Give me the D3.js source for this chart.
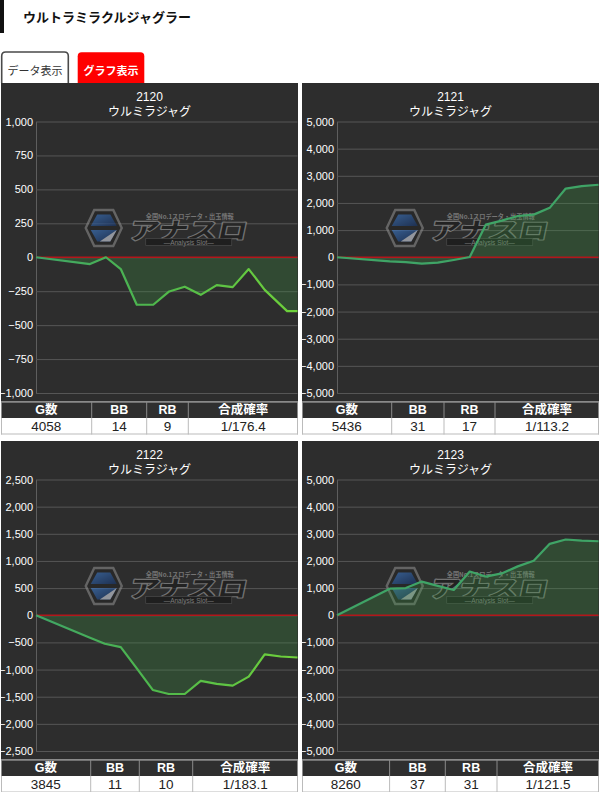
<!DOCTYPE html>
<html><head><meta charset="utf-8">
<script src="https://cdn.jsdelivr.net/npm/d3@7"></script>
<style>
html,body{margin:0;padding:0;background:#fff;}
svg{display:block;}
</style></head><body>
<svg id="c" width="600" height="792"></svg>
<script>
// ---------- data ----------
const pageTitle = "ウルトラミラクルジャグラー";
const tabLabels = ["データ表示", "グラフ表示"];
const machineNos = ["2120", "2121", "2122", "2123"];
const machineName = "ウルミラジャグ";
const tableHeaders = ["G数", "BB", "RB", "合成確率"];
const games = [4058, 5436, 3845, 8260];
const bbCounts = [14, 31, 11, 37];
const rbCounts = [9, 17, 10, 31];
const combinedProb = ["1/176.4", "1/113.2", "1/183.1", "1/121.5"];
const yMax = [1000, 5000, 2500, 5000];
const yStep = [250, 1000, 500, 1000];
const xSlots1 = [0, 3.375, 4.375, 5.3, 6.3, 7.33, 8.33, 9.3, 10.3, 11.3, 12.3, 13.3, 14.3, 15.7, 16.35];
const xSlots = [0, 3.3, 4.3, 5.3, 6.3, 7.3, 8.3, 9.3, 10.3, 11.3, 12.3, 13.3, 14.3, 15.3, 16.35];
const values2120 = [0, -50, 0, -87, -350, -350, -252, -217, -277, -205, -220, -87, -240, -397, -397];
const values2121 = [0, -150, -180, -235, -200, -100, 10, 1200, 1350, 1520, 1570, 1820, 2530, 2620, 2670];
const values2122 = [0, -405, -525, -586, -980, -1376, -1450, -1450, -1210, -1265, -1296, -1130, -722, -760, -778];
const values2123 = [0, 980, 1000, 1240, 1080, 930, 1610, 1425, 1540, 1800, 2010, 2630, 2790, 2750, 2725];
const xDomainMax = 16.35;

const seriesX = [xSlots1, xSlots, xSlots, xSlots];
const seriesY = [values2120, values2121, values2122, values2123];

// ---------- layout ----------
const panelPos = [[1, 83], [302, 83], [1, 441], [302, 441]];
const panelW = 297;
const plotL = 35, plotR = 296.5, plotT = 38.5, plotB = 310;
const tableTop = 318.5, headH = 16.5, rowH = 16.5;
const colEdges = [
  [0, 90.7, 145.7, 187.3, 297],
  [0, 89.7, 142, 193, 297],
  [0, 89.7, 138.3, 191.7, 297],
  [0, 87.6, 143.3, 195, 297]
];
const LAT = "'Liberation Sans', Arial, 'Noto Sans CJK JP', sans-serif";
const JP = "'Noto Sans CJK JP', 'Noto Sans CJK SC', sans-serif";

const svg = d3.select("#c");
const defs = svg.append("defs");

// header
svg.append("rect").attr("x", 0).attr("y", 0).attr("width", 4).attr("height", 33).attr("fill", "#111");
svg.append("text").attr("x", 23).attr("y", 16).attr("dominant-baseline", "central")
  .attr("font-family", JP).attr("font-size", 13).attr("font-weight", "bold").attr("fill", "#111")
  .text(pageTitle);

function topRounded(x, y, w, h, r) {
  return `M${x},${y + h}V${y + r}Q${x},${y} ${x + r},${y}H${x + w - r}Q${x + w},${y} ${x + w},${y + r}V${y + h}`;
}
// tabs
svg.append("path").attr("d", topRounded(1.7, 52, 66.6, 31, 4)).attr("fill", "#fff")
  .attr("stroke", "#4a4a4a").attr("stroke-width", 1.6);
svg.append("text").attr("x", 35).attr("y", 69.5).attr("text-anchor", "middle").attr("dominant-baseline", "central")
  .attr("font-family", JP).attr("font-size", 11).attr("fill", "#333").text(tabLabels[0]);
svg.append("path").attr("d", topRounded(77.7, 52.3, 66.6, 31, 4) + "Z").attr("fill", "#ff0000");
svg.append("text").attr("x", 111).attr("y", 69.5).attr("text-anchor", "middle").attr("dominant-baseline", "central")
  .attr("font-family", JP).attr("font-size", 11).attr("font-weight", "bold").attr("fill", "#fff").text(tabLabels[1]);

// logo gradients
const gBlue = defs.append("linearGradient").attr("id", "logoBlue").attr("x1", 0).attr("y1", 0).attr("x2", 1).attr("y2", 1);
gBlue.append("stop").attr("offset", "0%").attr("stop-color", "#3f7fd0");
gBlue.append("stop").attr("offset", "100%").attr("stop-color", "#15336a");

function drawLogo(g, cx, cy) {
  const lg = g.append("g").attr("opacity", 0.6);
  const hx = cx - 63, hy = cy;
  const hex = [[hx - 18, hy], [hx - 9.5, hy - 18], [hx + 9.5, hy - 18], [hx + 18, hy], [hx + 9.5, hy + 18], [hx - 9.5, hy + 18]];
  lg.append("polygon").attr("points", hex.map(p => p.join(",")).join(" "))
    .attr("fill", "#262626").attr("stroke", "#8a8a8a").attr("stroke-width", 2.4);
  lg.append("polygon").attr("points", [[hx - 13, hy - 2], [hx - 6.5, hy - 13.5], [hx + 6.5, hy - 13.5], [hx + 13, hy - 2]].map(p => p.join(",")).join(" "))
    .attr("fill", "url(#logoBlue)");
  lg.append("polygon").attr("points", [[hx - 13, hy + 2], [hx + 13, hy + 2], [hx + 6.5, hy + 13.5], [hx - 6.5, hy + 13.5]].map(p => p.join(",")).join(" "))
    .attr("fill", "url(#logoBlue)");
  lg.append("polygon").attr("points", [[hx - 4, hy + 13.5], [hx + 13, hy + 2], [hx + 10, hy + 7.5], [hx + 6.5, hy + 13.5]].map(p => p.join(",")).join(" "))
    .attr("fill", "#d8dde8");
  lg.append("text").attr("x", cx + 23).attr("y", cy - 12).attr("text-anchor", "middle").attr("dominant-baseline", "central")
    .attr("font-family", JP).attr("font-size", 6.5).attr("font-weight", "bold").attr("fill", "#a5a5a5")
    .attr("textLength", 88).attr("lengthAdjust", "spacingAndGlyphs").text("全国No.1スロデータ・出玉情報");
  lg.append("text").attr("x", cx - 37).attr("y", cy + 1.5).attr("dominant-baseline", "central")
    .attr("transform", `skewX(-12) translate(${(cy + 1.5) * Math.tan(12 * Math.PI / 180)},0)`)
    .attr("font-family", JP).attr("font-size", 23).attr("font-weight", "bold").attr("fill", "#1c1c1c")
    .attr("stroke", "#a0a0a0").attr("stroke-width", 2.2).attr("paint-order", "stroke")
    .attr("stroke-linejoin", "round")
    .attr("textLength", 118).attr("lengthAdjust", "spacingAndGlyphs").text("アナスロ");
  lg.append("rect").attr("x", cx - 21).attr("y", cy + 10.5).attr("width", 86).attr("height", 7)
    .attr("fill", "#161616").attr("stroke", "#606060").attr("stroke-width", 0.7);
  lg.append("text").attr("x", cx + 22).attr("y", cy + 14.2).attr("text-anchor", "middle").attr("dominant-baseline", "central")
    .attr("font-family", LAT).attr("font-size", 6.5).attr("fill", "#b0b0b0").text("—Analysis Slot—");
}

machineNos.forEach((no, i) => {
  const [px, py] = panelPos[i];
  const g = svg.append("g").attr("transform", `translate(${px},${py})`);
  g.append("rect").attr("width", panelW).attr("height", tableTop).attr("fill", "#2d2d2d");

  g.append("text").attr("x", panelW / 2).attr("y", 13.5).attr("text-anchor", "middle").attr("dominant-baseline", "central")
    .attr("font-family", LAT).attr("font-size", 12).attr("fill", "#fff").text(no);
  g.append("text").attr("x", panelW / 2).attr("y", 27.5).attr("text-anchor", "middle").attr("dominant-baseline", "central")
    .attr("font-family", JP).attr("font-size", 12).attr("fill", "#fff").text(machineName);

  const x = d3.scaleLinear().domain([0, xDomainMax]).range([plotL, plotR]);
  const y = d3.scaleLinear().domain([-yMax[i], yMax[i]]).range([plotB, plotT]);
  const ticks = d3.range(-yMax[i], yMax[i] + 1, yStep[i]);

  const ax = g.append("g").attr("transform", `translate(${plotL},0)`)
    .call(d3.axisLeft(y).tickValues(ticks).tickFormat(d3.format(",")).tickSizeInner(-(plotR - plotL)).tickSizeOuter(0).tickPadding(3));
  ax.select(".domain").attr("stroke", "#5e5e5e");
  ax.selectAll(".tick line").attr("stroke", "#565656").attr("stroke-width", 1);
  ax.selectAll(".tick text").attr("fill", "#fff").attr("font-family", LAT).attr("font-size", 11);

  drawLogo(g, (plotL + plotR) / 2, 145);

  const data = seriesX[i].map((xv, k) => ({ x: xv, v: seriesY[i][k] }));
  const gid = "lg" + i;
  const lgd = defs.append("linearGradient").attr("id", gid).attr("gradientUnits", "userSpaceOnUse")
    .attr("x1", px + plotL).attr("x2", px + plotR).attr("y1", 0).attr("y2", 0);
  lgd.append("stop").attr("offset", "0%").attr("stop-color", "#3fa466");
  lgd.append("stop").attr("offset", "45%").attr("stop-color", "#4fb84c");
  lgd.append("stop").attr("offset", "100%").attr("stop-color", "#6fd23a");

  g.append("path").datum(data)
    .attr("d", d3.area().x(d => x(d.x)).y0(y(0)).y1(d => y(d.v)))
    .attr("fill", "rgba(60,150,70,0.28)");
  g.append("line").attr("x1", plotL).attr("x2", plotR).attr("y1", y(0)).attr("y2", y(0))
    .attr("stroke", "#b3161b").attr("stroke-width", 1.5);
  g.append("path").datum(data)
    .attr("d", d3.line().x(d => x(d.x)).y(d => y(d.v)))
    .attr("fill", "none").attr("stroke", `url(#${gid})`).attr("stroke-width", 2.2)
    .attr("stroke-linejoin", "round");

  // table
  const edges = colEdges[i];
  const tg = g.append("g").attr("transform", `translate(0,${tableTop})`);
  tg.append("rect").attr("width", panelW).attr("height", headH).attr("fill", "#2f2f2f");
  tg.append("rect").attr("y", headH).attr("width", panelW).attr("height", rowH).attr("fill", "#fff");
  tg.append("line").attr("x1", 0).attr("x2", panelW).attr("y1", 0.5).attr("y2", 0.5).attr("stroke", "#b5b5b5");
  tg.append("line").attr("x1", 0).attr("x2", panelW).attr("y1", headH + rowH - 0.5).attr("y2", headH + rowH - 0.5).attr("stroke", "#bbb");
  edges.forEach((e, k) => {
    const xx = k === edges.length - 1 ? e - 0.5 : (k === 0 ? e + 0.5 : e);
    tg.append("line").attr("x1", xx).attr("x2", xx).attr("y1", 0).attr("y2", headH).attr("stroke", "#8a8a8a");
    tg.append("line").attr("x1", xx).attr("x2", xx).attr("y1", headH).attr("y2", headH + rowH).attr("stroke", "#bbb");
  });
  const rowVals = [String(games[i]), String(bbCounts[i]), String(rbCounts[i]), combinedProb[i]];
  tableHeaders.forEach((h, k) => {
    const cx = (edges[k] + edges[k + 1]) / 2;
    tg.append("text").attr("x", cx).attr("y", headH / 2 + 0.5).attr("text-anchor", "middle").attr("dominant-baseline", "central")
      .attr("font-family", LAT).attr("font-size", 12.5).attr("font-weight", "bold").attr("fill", "#fff").text(h);
    tg.append("text").attr("x", cx).attr("y", headH + rowH / 2 + 0.5).attr("text-anchor", "middle").attr("dominant-baseline", "central")
      .attr("font-family", LAT).attr("font-size", 13.5).attr("fill", "#222").text(rowVals[k]);
  });
});
</script>
</body></html>
